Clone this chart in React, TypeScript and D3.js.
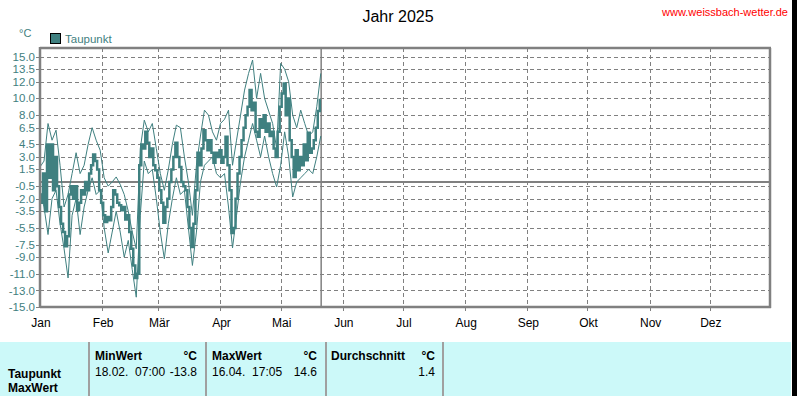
import React from "react";
import * as d3 from "d3";

const W = 797;
const H = 396;

const monthLabels = ["Jan", "Feb", "Mär", "Apr", "Mai", "Jun", "Jul", "Aug", "Sep", "Okt", "Nov", "Dez"];
const monthStarts = [0, 31, 59, 90, 120, 151, 181, 212, 243, 273, 304, 334];
const yTicks = [15.0, 13.5, 12.0, 10.0, 8.0, 6.5, 4.5, 3.0, 1.5, -0.5, -2.0, -3.5, -5.5, -7.5, -9.0, -11.0, -13.0, -15.0];
const todayDay = 140.2;

// thin upper line, every 2 days from day 0
const maxValues = [
  1.8, 2.5, 7.0, 5.0, 6.2, 2.0, -3.0, -1.5, 1.0, 3.5, 1.0, 2.0, 4.5, 6.5, 5.0, 3.8,
  0.5, -0.5, 0.0, 0.6, -0.3, -1.5, -3.5, -6.0, -8.0, 4.0, 7.4, 6.0, 7.0, 4.0,
  1.0, -1.0, 1.5, 4.5, 6.8, 6.5, 3.0, 0.0, -4.0, 2.0, 5.5, 8.6, 8.0, 6.0, 5.0, 7.0,
  7.5, 8.6, 2.0, 5.0, 8.0, 11.0, 13.0, 14.6, 10.0, 13.0, 10.0, 8.5, 7.0, 4.0, 14.2,
  13.5, 12.0, 8.0, 6.5, 8.6, 7.0, 5.5, 6.0, 9.0, 13.0,
];

// thin lower line, every 2 days from day 0
const minValues = [
  -1.0, -3.0, -6.3, -2.0, -1.0, -5.0, -8.0, -11.5, -4.0, -2.0, -6.3, -3.0, -1.0, 0.5, -1.5, -1.0,
  -5.5, -8.5, -6.0, -3.5, -6.0, -9.0, -7.0, -10.5, -13.8, -4.0, 2.5, 1.0, 1.5, -2.0,
  -6.0, -9.2, -5.0, -2.0, 0.5, -1.5, -1.0, -5.5, -10.0, -6.0, 0.0, 2.0, 2.5, 3.0, 1.0, 0.5,
  1.0, -3.0, -7.9, -4.0, 0.0, 3.0, 5.0, 7.0, 5.0, 3.0, 5.5, 3.0, 1.0, -0.6, 2.0,
  6.0, 3.0, -1.8, 0.0, 0.5, 1.0, 1.5, 1.0, 3.0, 5.5,
];

// thick line (Taupunkt), daily from day 0
const dewValues = [
  -1.5, -2.5, 1.0, -3.5, 4.5, 0.5, 4.5, -1.0, 3.0, -0.5, -3.0, -5.0, -6.0, -7.7, -6.5, -1.5,
  -0.5, -2.0, -0.5, -3.4, -2.5, -1.0, -1.5, 0.0, -1.0, 1.0, 2.0, 3.3, 2.5, 1.5, -1.0,
  -2.5, -4.0, -4.8, -4.2, -4.6, -3.0, -1.0, -1.5, -2.5, -2.8, -3.4, -3.0, -4.5, -4.0, -6.0,
  -8.0, -10.0, -11.5, -11.0, 2.0, 4.5, 4.0, 6.0, 4.7, 3.0, 4.0, 2.0, 1.4,
  0.5, -1.0, -2.5, -4.9, -3.0, -2.0, 0.0, 1.5, 3.0, 4.7, 3.0, 1.8, 0.0, -0.5, -1.0, -3.0,
  -5.5, -7.8, -5.0, -1.0, 3.5, 2.0, 4.0, 6.2, 5.0, 3.8, 5.0, 3.5, 2.3, 3.5, 3.0,
  3.8, 2.3, 3.0, 5.4, 2.0, -1.0, -6.1, -5.5, -2.0, 1.0, 3.0, 5.0, 6.5, 8.0, 9.0, 11.0,
  8.6, 9.5, 6.0, 5.4, 7.5, 6.5, 8.0, 6.0, 7.0, 5.5, 6.0, 4.0, 3.0, 6.0,
  9.0, 10.6, 11.8, 8.0, 10.0, 5.0, 3.0, 0.6, 3.8, 1.4, 3.0, 2.0, 4.5, 2.6, 5.9, 3.5,
  4.0, 5.0, 6.5, 8.5, 9.8,
];

const tableHeaders = ["MinWert", "MaxWert", "Durchschnitt"];
const tableDates = ["18.02.  07:00", "16.04.  17:05", ""];
const tableValues = ["-13.8", "14.6", "1.4"];

const TEAL = "#3f8080";
const GRID = "#808080";
const FONT = "'Liberation Sans', Arial, sans-serif";

export default function App() {
  const x = d3.scaleLinear().domain([0, 365]).range([40, 772]);
  const y = d3.scaleLinear().domain([-15, 15]).range([307.2, 56.7]);

  const plotL = 40, plotR = 770, plotT = 48, plotB = 307;

  const lineDaily = d3
    .line<number>()
    .x((_, i) => x(i))
    .y((d) => y(d))
    .curve(d3.curveStep);
  const line2 = d3
    .line<number>()
    .x((_, i) => x(i * 2))
    .y((d) => y(d));

  const colX = [88, 205, 325, 442];
  const headerX = [95, 212, 331];
  const unitRight = [197, 317, 435];

  return (
    <svg
      width={W}
      height={H}
      style={{ position: "absolute", left: 0, top: 0, background: "#fff" }}
      fontFamily={FONT}
    >
      <rect x={0} y={0} width={W} height={H} fill="#fff" />
      {/* title */}
      <text x={398} y={22} textAnchor="middle" fontSize={16} fill="#000">
        Jahr 2025
      </text>
      <text x={788} y={16} textAnchor="end" fontSize={11} fill="#ff0000">
        www.weissbach-wetter.de
      </text>

      {/* unit and legend */}
      <text x={19} y={37} fontSize={11} fill={TEAL}>
        °C
      </text>
      <rect x={50.5} y={33.5} width={10} height={10} fill={TEAL} stroke="#000" strokeWidth={1} />
      <text x={65} y={43} fontSize={11.5} fill={TEAL}>
        Taupunkt
      </text>

      {/* horizontal grid + y labels */}
      {yTicks.map((t) => (
        <g key={"y" + t}>
          <line x1={plotL} x2={plotR} y1={Math.round(y(t)) + 0.5} y2={Math.round(y(t)) + 0.5} stroke={GRID} strokeDasharray="4,3" />
          <line x1={36} x2={plotL} y1={Math.round(y(t)) + 0.5} y2={Math.round(y(t)) + 0.5} stroke={GRID} />
          <text x={35} y={y(t) + 4} textAnchor="end" fontSize={11.5} fill={TEAL}>
            {t.toFixed(1)}
          </text>
        </g>
      ))}

      {/* vertical grid + x labels */}
      {monthStarts.map((m, i) => (
        <g key={"m" + i}>
          {i > 0 && (
            <line x1={Math.round(x(m)) + 0.5} x2={Math.round(x(m)) + 0.5} y1={plotT} y2={312} stroke={GRID} strokeDasharray="4,3" />
          )}
          <text x={x(m) + 1} y={327} textAnchor="middle" fontSize={12} fill="#000">
            {monthLabels[i]}
          </text>
        </g>
      ))}

      {/* zero line */}
      <line x1={plotL} x2={plotR} y1={y(0)} y2={y(0)} stroke={GRID} strokeWidth={2} />
      {/* today line */}
      <line x1={x(todayDay)} x2={x(todayDay)} y1={plotT} y2={plotB} stroke={GRID} strokeWidth={1.5} />

      {/* data */}
      <path d={line2(maxValues) || ""} fill="none" stroke={TEAL} strokeWidth={1} />
      <path d={line2(minValues) || ""} fill="none" stroke={TEAL} strokeWidth={1} />
      <path d={lineDaily(dewValues) || ""} fill="none" stroke={TEAL} strokeWidth={2.5} />

      {/* frame */}
      <line x1={plotL} x2={plotR + 1} y1={plotT} y2={plotT} stroke={GRID} strokeWidth={2.5} />
      <line x1={plotR} x2={plotR} y1={plotT} y2={plotB + 1} stroke={GRID} strokeWidth={2.5} />
      <line x1={plotL} x2={plotR + 1} y1={plotB} y2={plotB} stroke={GRID} strokeWidth={2.5} />
      <line x1={plotL} x2={plotL} y1={plotT - 1} y2={plotB + 1} stroke={GRID} strokeWidth={2.5} />

      {/* table */}
      <rect x={0} y={342} width={791} height={54} fill="#ccf9f9" />
      {colX.map((cx) => (
        <rect key={"c" + cx} x={cx} y={342} width={2} height={54} fill="#a0a0a0" />
      ))}
      <rect x={792} y={0} width={5} height={H} fill="#000" />
      <text x={8} y={378} fontSize={12} fontWeight="bold" fill="#000">
        Taupunkt
      </text>
      <text x={8} y={392} fontSize={12} fontWeight="bold" fill="#000">
        MaxWert
      </text>
      {tableHeaders.map((h, i) => (
        <g key={h}>
          <text x={headerX[i]} y={360} fontSize={12} fontWeight="bold" fill="#000">
            {h}
          </text>
          <text x={unitRight[i]} y={360} fontSize={12} fontWeight="bold" fill="#000" textAnchor="end">
            °C
          </text>
          <text x={headerX[i]} y={376} fontSize={12} fill="#000" xmlSpace="preserve">
            {tableDates[i]}
          </text>
          <text x={unitRight[i]} y={376} fontSize={12} fill="#000" textAnchor="end">
            {tableValues[i]}
          </text>
        </g>
      ))}
    </svg>
  );
}
